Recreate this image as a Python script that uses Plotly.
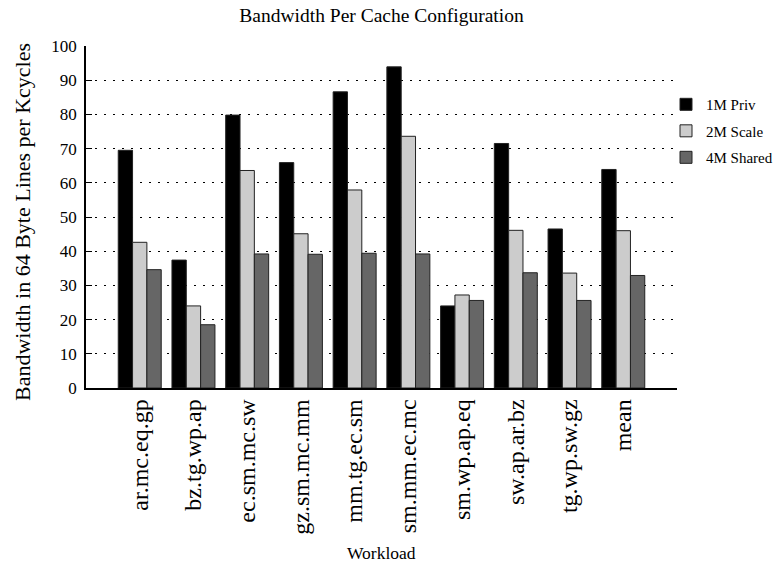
import plotly.graph_objects as go

workloads = ["ar.mc.eq.gp", "bz.tg.wp.ap", "ec.sm.mc.sw", "gz.sm.mc.mm", "mm.tg.ec.sm",
             "sm.mm.ec.mc", "sm.wp.ap.eq", "sw.ap.ar.bz", "tg.wp.sw.gz", "mean"]
priv_1m = [69.5, 37.4, 79.8, 65.9, 86.6, 93.9, 24.0, 71.5, 46.5, 63.9]
scale_2m = [42.6, 24.0, 63.6, 45.1, 57.9, 73.6, 27.2, 46.1, 33.6, 46.0]
shared_4m = [34.6, 18.5, 39.2, 39.1, 39.4, 39.2, 25.6, 33.7, 25.6, 32.9]
y_ticks = list(range(0, 101, 10))

serif = "Liberation Serif, Times New Roman, serif"

series = [
    ("1M Priv", priv_1m, "#000000"),
    ("2M Scale", scale_2m, "#cccccc"),
    ("4M Shared", shared_4m, "#666666"),
]

fig = go.Figure()
for name, vals, col in series:
    fig.add_trace(go.Bar(
        x=list(range(len(workloads))), y=vals, name=name, legendgroup=name,
        marker=dict(color=col, line=dict(color="#222222", width=1)),
    ))

# plot area spans x 86..677 px and y 46..388 px
L, R, T, B = 86, 98, 46, 179
PW, PH = 775 - L - R, 567 - T - B

fig.update_layout(
    width=775, height=567,
    barmode="group", bargap=0.2, bargroupgap=0,
    plot_bgcolor="white", paper_bgcolor="white",
    margin=dict(l=L, r=R, t=T, b=B, autoexpand=False),
    font=dict(family=serif, color="black", size=15),
    title=dict(text="Bandwidth Per Cache Configuration", x=0.5, xref="paper",
               y=1, yref="container", yanchor="top", pad=dict(t=8),
               font=dict(size=19.5, family=serif)),
    legend=dict(x=(666 - L) / PW, y=0.877, xanchor="left", yanchor="top",
                font=dict(size=15, family=serif), traceorder="grouped",
                tracegroupgap=4, bgcolor="rgba(0,0,0,0)"),
    showlegend=True,
)

fig.update_xaxes(
    range=[-1, 10], tickmode="array", tickvals=list(range(len(workloads))),
    ticktext=workloads, tickangle=-90, tickfont=dict(size=24, family=serif),
    showline=True, linecolor="black", linewidth=1.5, showgrid=False,
    ticks="", zeroline=False,
)
fig.update_yaxes(
    range=[0, 100], tickmode="array", tickvals=y_ticks,
    tickfont=dict(size=17, family=serif),
    showline=True, linecolor="black", linewidth=1.5,
    showgrid=True, gridcolor="black", gridwidth=1, griddash="2px,7px",
    zeroline=False, ticks="inside", ticklen=6, tickcolor="black",
    ticklabelstandoff=4,
)

fig.add_annotation(text="Bandwidth in 64 Byte Lines per Kcycles", textangle=-90,
                   xref="paper", yref="paper",
                   x=(22 - L) / PW, y=1 - (222 - T) / PH,
                   showarrow=False, font=dict(size=22, family=serif),
                   xanchor="center", yanchor="middle")
fig.add_annotation(text="Workload", xref="paper", yref="paper",
                   x=0.5, y=-(553 - 388) / PH,
                   showarrow=False, font=dict(size=17.5, family=serif),
                   xanchor="center", yanchor="middle")

fig.write_html("out.html")
